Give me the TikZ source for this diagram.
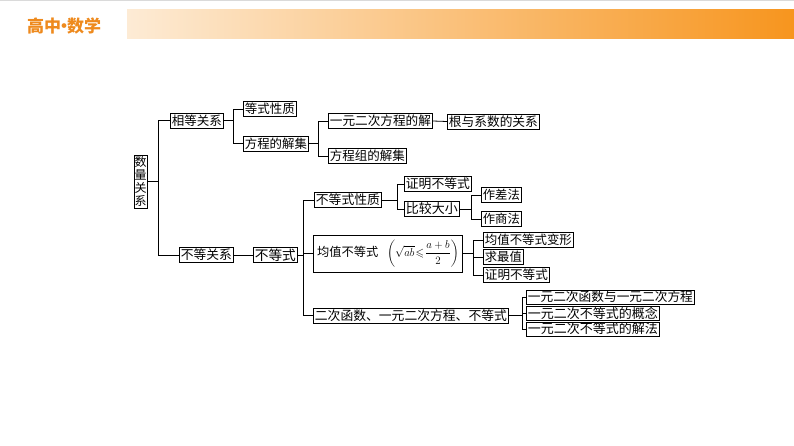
\RequirePackage{fix-cm}
\documentclass[tikz,border=0pt]{standalone}
\usepackage{amsmath,amssymb,graphicx}
\usepackage{fontspec}
\setmainfont{Noto Sans CJK SC}
\definecolor{barL}{HTML}{FDEBD5}
\definecolor{barR}{HTML}{F7951E}
\definecolor{titleC}{HTML}{EE8A1E}
\definecolor{topline}{HTML}{DADADA}
\newcommand{\fw}[2]{\resizebox{#1pt}{!}{#2}}
\begin{document}
\begin{tikzpicture}[x=1pt,y=-1pt,
  box/.style={draw, line width=0.8pt, inner xsep=1.5pt, inner ysep=0pt, minimum height=15pt, anchor=west,
    font=\fontsize{13}{13}\selectfont},
  link/.style={line width=0.8pt}]
\useasboundingbox (0,0) rectangle (794,446);
% header
\fill[topline] (0,0) rectangle (794,1.5);
\shade[left color=barL, right color=barR] (127,10) rectangle (794,39);
\node[anchor=west, text=titleC, font=\fontsize{17}{17}\selectfont\bfseries, inner sep=0pt] (title) at (27,26)
  {高中\hspace{-5.5pt}•\hspace{-5.5pt}数学};

% nodes
\node[draw, line width=0.8pt, inner sep=0pt, minimum width=13pt, minimum height=53pt, align=center,
  font=\fontsize{12}{13}\selectfont] (sl) at (140.5,181.5) {数\\量\\关\\系};
\node[box, minimum width=53pt] (xd) at (170,120.5) {\fw{50}{相等关系}};
\node[box, minimum width=53pt] (dx) at (243,109) {\fw{50}{等式性质}};
\node[box, minimum width=65pt] (fc) at (243,143.5) {\fw{62}{方程的解集}};
\node[box, minimum width=104pt] (yy) at (328,121) {\fw{101}{一元二次方程的解}};
\node[box, minimum width=92pt] (gx) at (447,121.5) {\fw{89}{根与系数的关系}};
\node[box, minimum width=78pt] (fz) at (328,156) {\fw{75}{方程组的解集}};

\node[box, minimum width=54pt] (bg) at (179,255) {\fw{51}{不等关系}};
\node[box, minimum width=44pt] (bd) at (253,255) {\fw{41}{不等式}};
\node[box, minimum width=67pt] (bx) at (314,200) {\fw{64}{不等式性质}};
\node[box, minimum width=67pt] (zm) at (404,184) {\fw{64}{证明不等式}};
\node[box, minimum width=55pt] (bj) at (404,209) {\fw{52}{比较大小}};
\node[box, minimum width=40pt] (zc) at (481,195) {\fw{37}{作差法}};
\node[box, minimum width=40pt] (zs) at (481,219) {\fw{37}{作商法}};
\node[box, minimum width=149pt, minimum height=37pt, line width=1pt, inner xsep=3pt] (jz) at (313,253.5)
  {\fw{61}{均值不等式}\hspace{9pt}\scalebox{0.84}[0.87]{$\left(\sqrt{ab}\mkern2mu{\leqslant}\mkern2mu\dfrac{a+b}{2}\right)$}};
\node[box, minimum width=90pt] (jb) at (483,240) {\fw{87}{均值不等式变形}};
\node[box, minimum width=40pt] (qz) at (483,257) {\fw{37}{求最值}};
\node[box, minimum width=66pt] (zn) at (483,275) {\fw{63}{证明不等式}};
\node[box, minimum width=195pt] (ec) at (313,315.5) {\fw{192}{二次函数、一元二次方程、不等式}};
\node[box, minimum width=168pt, minimum height=14pt] (e1) at (526,297) {\fw{165}{一元二次函数与一元二次方程}};
\node[box, minimum width=133pt, minimum height=14pt] (e2) at (526,313) {\fw{130}{一元二次不等式的概念}};
\node[box, minimum width=133pt, minimum height=14pt] (e3) at (526,329) {\fw{130}{一元二次不等式的解法}};

% connectors
\draw[link] (sl.east) -- ++(11,0) |- (xd.west);
\draw[link] (sl.east) -- ++(11,0) |- (bg.west);
\draw[link] (xd.east) -- ++(10,0) |- (dx.west);
\draw[link] (xd.east) -- ++(10,0) |- (fc.west);
\draw[link] (fc.east) -- ++(10,0) |- (yy.west);
\draw[link] (fc.east) -- ++(10,0) |- (fz.west);
\draw[link] (yy.east) -- (gx.west);
\draw[link] (bg.east) -- (bd.west);
\draw[link] (bd.east) -- ++(6,0) |- (bx.west);
\draw[link] (bd.east) -- ++(6,0) |- (jz.west);
\draw[link] (bd.east) -- ++(6,0) |- (ec.west);
\draw[link] (bx.east) -- ++(16,0) |- (zm.west);
\draw[link] (bx.east) -- ++(16,0) |- (bj.west);
\draw[link] (bj.east) -- ++(12,0) |- (zc.west);
\draw[link] (bj.east) -- ++(12,0) |- (zs.west);
\draw[link] (jz.east) -- ++(10,0) |- (jb.west);
\draw[link] (jz.east) -- ++(10,0) |- (qz.west);
\draw[link] (jz.east) -- ++(10,0) |- (zn.west);
\draw[link] (ec.east) -- ++(14,0) |- (e1.west);
\draw[link] (ec.east) -- ++(14,0) |- (e2.west);
\draw[link] (ec.east) -- ++(14,0) |- (e3.west);
\end{tikzpicture}
\end{document}
